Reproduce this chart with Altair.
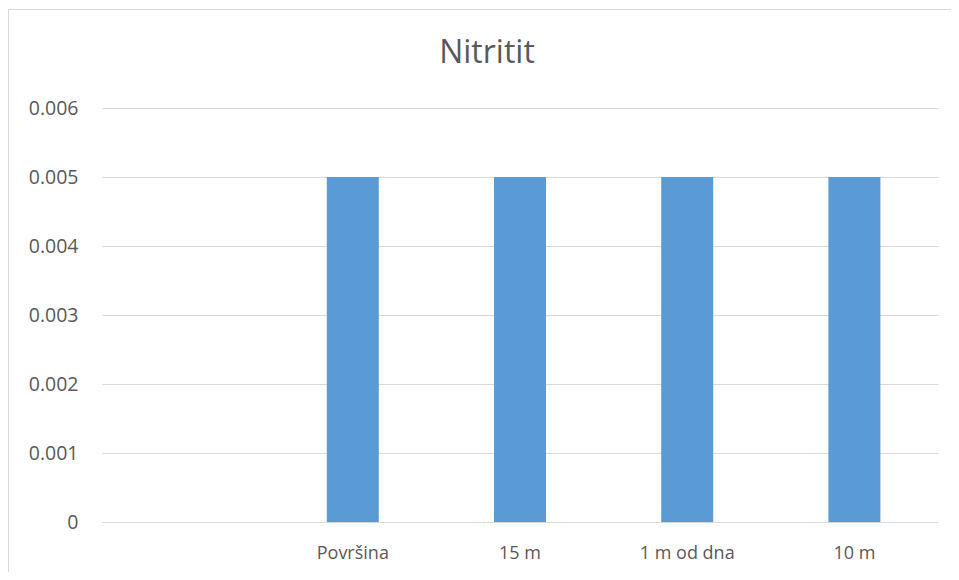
import altair as alt
import pandas as pd

categories = ["", "Površina", "15 m", "1 m od dna", "10 m"]
values = [None, 0.005, 0.005, 0.005, 0.005]
y_ticks = [0, 0.001, 0.002, 0.003, 0.004, 0.005, 0.006]
title_text = "Nitritit"

df = pd.DataFrame({"cat": categories, "val": values})

W, H = 836, 414
PL, PT, PR, PB = 94, 100, 13, 50

bars = alt.Chart(df).mark_bar(color="#5b9bd5").encode(
    x=alt.X(
        "cat:N",
        sort=categories,
        scale=alt.Scale(domain=categories, paddingInner=0.689, paddingOuter=0.3445),
        axis=alt.Axis(
            title=None, ticks=False, domain=True, domainColor="#d9d9d9",
            labelAngle=0, labelFont="Open Sans", labelFontSize=18,
            labelColor="#595959", labelPadding=22, grid=False,
        ),
    ),
    y=alt.Y(
        "val:Q",
        scale=alt.Scale(domain=[0, 0.006], nice=False),
        axis=alt.Axis(
            title=None, values=y_ticks, format=".3~f", ticks=False, domain=False,
            labelFont="Open Sans", labelFontSize=19.5, labelColor="#595959",
            labelPadding=24, grid=True, gridColor="#d9d9d9", gridWidth=1,
        ),
    ),
)

title_df = pd.DataFrame({"t": [title_text]})
title_mark = alt.Chart(title_df).mark_text(
    font="Open Sans", fontSize=32, color="#595959", baseline="alphabetic", align="center"
).encode(
    text="t:N",
    x=alt.value(W / 2 - 33),
    y=alt.value(-45),
)

frame = alt.Chart(pd.DataFrame({"f": [0]})).mark_rect(
    filled=False, stroke="#d9d9d9", strokeWidth=1
).encode(
    x=alt.value(-PL + 0.5), x2=alt.value(W + PR + 20),
    y=alt.value(-PT + 1.5), y2=alt.value(H + PB + 20),
)

chart = alt.layer(frame, bars, title_mark).properties(
    width=W, height=H,
    padding={"left": PL, "top": PT, "right": PR, "bottom": PB},
    autosize=alt.AutoSizeParams(type="none"),
).configure_view(stroke=None)

chart.save("out.html", embed_options={"renderer": "svg", "actions": False})
